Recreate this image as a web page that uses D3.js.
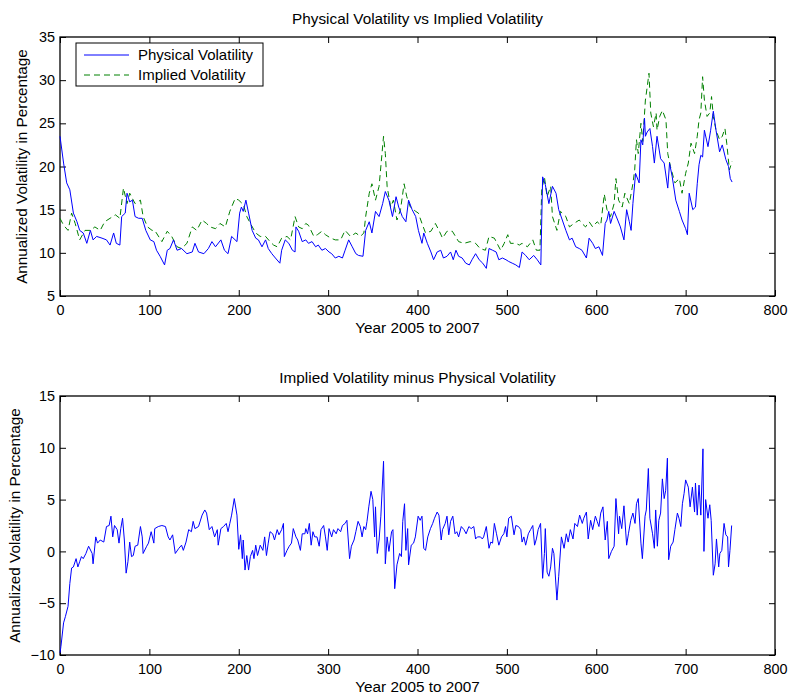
<!DOCTYPE html>
<html>
<head>
<meta charset="utf-8">
<script src="https://cdn.jsdelivr.net/npm/d3@7"></script>
<style>
  body { margin: 0; background: #fff; }
  svg { display: block; }
  text { font-family: "Liberation Sans", Arial, Helvetica, sans-serif; fill: #000; }
</style>
</head>
<body>
<svg id="chart" width="789" height="694"></svg>
<script>
// ---- data -------------------------------------------------------------
const seriesNames = ["Physical Volatility", "Implied Volatility"];
const xTicks = [0, 100, 200, 300, 400, 500, 600, 700, 800];
const volTicks = [5, 10, 15, 20, 25, 30, 35];
const spreadTicks = [-10, -5, 0, 5, 10, 15];

// physical (realised) volatility, trading day index -> percent
const physDay = [0,4,7.5,11,15,19,22,26,30,34,37,41,47,52,56,60,63,67,69,73,75,78,81,84,88,92,96,101,105,108,112,117,120,123,127,131,136,142,148,151,155,161,166,170,174,180,184,188,192,198,201,203,205,208,211,215,219,222,226,230,233,237,241,246,248,252,256,260,263,264,267,271,275,278,282,286,289,293,297,301,304,308,312,316,319,323,327,331,334,339,342,346,349,353,357,361,364,368,372,376,379,383,387,390,394,398,401,405,407,411,415,418,422,426,429,433,437,440,443,446,450,454,458,461,465,469,473,477,480,484,488,491,495,499,502,506,510,514,517,521,525,530,534,538,540,543,547,551,555,558,562,566,570,573,577,581,584,589,592,596,599,603,607,610,612,614,616,620,624,627,631,634,637,639,641,644,648,650,652,654,655,657,660,663,665,668,672,676,680,682,685,689,693,696,700,702,704,708,711,713,715,717,719,721,725,728,731,734,738,741,745,748,750,752];
const physVol = [23.5,20.4,18.1,17.3,14.6,13.6,12.6,12.3,11.1,12.6,11.5,11.9,11.7,11.5,10.9,12.3,11.1,10.9,14.2,14.6,16.9,15.9,16.1,14.2,14.0,14.0,12.6,11.5,11.3,10.3,9.6,8.6,10.3,10.5,11.5,10.3,10.5,9.9,10.1,11.1,10.1,9.9,10.5,11.3,10.7,11.5,10.3,9.9,11.9,11.3,14.6,15.3,14.8,16.1,14.6,12.6,11.7,11.5,10.7,11.5,10.5,9.9,9.4,8.8,10.3,11.5,11.1,10.3,10.1,13.0,12.5,11.3,11.5,11.1,11.3,10.7,10.9,10.3,10.5,10.1,9.9,9.4,9.6,9.4,10.3,11.5,10.7,9.9,9.7,9.6,12.6,13.6,12.3,14.8,14.2,15.7,17.1,16.1,14.2,16.5,15.3,14.2,13.6,16.1,15.0,14.2,12.6,11.1,12.3,11.1,10.1,9.2,10.1,10.3,9.4,9.6,10.1,9.2,10.3,9.6,9.4,8.8,8.6,9.2,9.9,9.2,8.8,8.2,10.5,10.3,10.1,9.2,9.4,9.2,9.0,8.8,8.6,8.3,10.1,9.7,9.2,9.7,9.2,8.6,18.8,17.9,15.7,17.7,16.9,15.0,13.8,12.6,11.5,11.7,10.7,10.5,10.3,9.4,11.7,11.1,10.5,10.7,9.7,13.4,13.8,14.8,13.4,14.8,13.8,13.0,11.5,15.0,13.6,12.6,15.7,19.2,18.1,23.1,22.5,25.6,23.5,24.0,24.4,22.3,20.4,23.5,20.9,20.4,17.5,20.4,18.8,16.1,14.8,13.8,12.8,12.1,16.9,15.0,15.3,18.0,20.2,21.3,21.1,24.2,22.3,24.2,26.4,24.2,21.7,22.5,20.8,20.0,18.6,18.2];

// implied volatility, trading day index -> percent
const implDay = [0,4,9,13,17,22,28,34,39,45,50,56,62,67,71,75,78,84,90,93,98,103,106,114,120,125,131,136,142,148,153,159,164,168,174,179,185,190,196,200,204,206,209,213,219,224,230,235,239,243,248,254,258,263,267,271,275,278,284,288,293,297,303,308,314,319,325,331,336,340,342,346,349,353,357,362,364,366,370,373,377,381,385,388,392,398,401,405,409,415,420,424,428,433,439,446,452,459,465,470,476,480,486,489,493,497,501,504,510,514,517,523,529,533,537,539,542,545,549,551,556,560,566,570,575,581,584,588,592,596,601,605,609,612,616,620,622,625,629,632,637,641,643,645,647,650,652,655,657,659,661,664,667,668,671,674,678,680,683,688,693,696,700,703,706,710,713,715,717,719,721,724,727,729,731,734,738,741,744,746,749,752];
const implVol = [14.0,13.2,12.6,14.6,13.4,11.5,12.6,12.6,13.0,12.6,13.6,14.0,14.4,14.0,17.5,15.7,16.9,15.7,16.1,14.2,13.0,12.6,12.6,11.3,12.5,11.9,10.7,10.5,11.1,13.0,12.6,13.8,13.4,13.0,12.8,13.4,13.0,14.8,16.3,16.1,15.7,15.3,14.2,13.4,12.3,11.9,11.9,11.3,10.9,10.7,11.7,11.9,11.5,14.2,13.0,12.8,13.4,13.2,11.9,12.1,12.5,12.1,11.7,11.5,11.5,12.6,11.9,12.3,11.9,12.3,14.2,16.9,18.0,16.1,17.7,23.5,21.5,17.7,15.3,16.1,13.8,15.0,18.0,16.5,15.3,14.8,14.6,13.4,12.3,12.5,13.4,12.6,11.7,12.5,12.5,11.3,11.1,11.3,11.1,10.5,10.3,11.9,11.7,11.1,10.3,11.1,12.1,11.1,11.1,10.9,11.1,10.7,11.5,10.3,10.3,17.3,18.8,16.5,17.7,14.2,12.6,14.8,14.2,13.0,13.4,13.8,13.4,13.0,13.6,13.0,13.6,13.2,16.8,15.0,14.2,15.7,18.6,16.1,15.3,16.9,15.7,18.0,19.6,23.1,21.5,25.0,22.9,27.7,29.2,30.8,26.2,24.6,26.2,24.2,25.8,26.5,25.4,21.5,20.0,18.1,18.6,16.9,19.2,20.4,22.7,21.5,23.5,25.4,26.2,30.4,27.7,25.8,26.2,28.1,25.8,24.2,23.1,23.5,24.4,22.7,19.6,20.6];

// implied minus physical, trading day index -> percentage points
const spreadDay = [0,1,4,6,9,11,13,15,18,20,22,24,26,29,32,36,37,40,42,45,49,52,55,57,59,61,64,66,68,70,72,74,76,78,80,82,84,87,90,92,93,97,99,102,105,106,110,114,118,121,123,126,129,133,136,138,141,144,147,149,151,155,159,162,164,167,170,173,176,177,180,183,186,188,190,192,195,198,200,202,204,205,207,209,211,213,215.5,217,219,221,224,227,229,231,233,235,238,240,243,245,248,250,251,254,256.5,259,261,264,266,269,271,274,275,277,279,281,283,285,287.5,290,292,295,297,299,301,304,306,309,311,314,316,319,321,324,326,329,331,333.5,336,338,340,342,343.5,345.5,348,350,352,353,355,357,359,362,364,366,368,371,372.5,374.5,377,380,382,383.5,385.5,387,389,390,393,395.6,397.6,400.7,403,405,407,409,411.5,414.5,417,419,422,424,426.5,428,431,433,435,437,439.5,442,444,446,449,452,454.4,457.5,460,463,465,467,470.5,472.5,474,477,480,482,484,486,488.4,491,494,496.6,498.5,500,502,505,508,510,513,515.6,517,519,521,524,526.5,529,531,533,535,537.7,540,542,543,545,547,549,551,552.6,556,558,561,564,566.5,568.6,571,574,576,579,581.4,584.4,586,589,591,593.7,596,599,601,603,605,607.5,610,612.4,614,617,620,622,625,626,628.5,631,634,636,638.6,641,643.4,645,647,650,651.6,654.6,656,658.3,660,663,665,666.5,668.4,670,672,674,676,677.7,679.6,681,683.3,686,688,690.8,692.6,694.6,696.4,698.3,700,703,705,707.6,710,711,713,715,717,719.4,720.5,722.4,725,727,728.6,731,733,734.5,737,738.3,740.5,743,745,747,748,749.6,751.5];
const spreadVol = [-9.8,-9.2,-6.9,-6.3,-5.3,-3.1,-1.6,-1.5,-0.7,-1.5,-1.0,-0.5,-0.7,-0.2,0.5,-0.2,-1.2,1.4,0.8,1.1,0.9,2.4,2.5,3.4,1.4,2.5,2.1,0.8,2.2,3.2,1.1,-2.1,-1.0,0.9,-0.5,-0.4,0.5,0.6,2.4,1.4,-0.2,0.5,0.8,1.9,0.8,2.2,2.4,2.5,2.4,1.4,1.1,1.6,-0.2,0.3,0.6,0.1,0.9,2.1,1.9,2.9,2.2,2.4,3.5,4.0,3.7,2.1,2.4,1.4,2.1,0.6,2.2,2.4,2.7,1.9,2.7,3.5,5.1,3.5,0.2,1.6,-0.7,1.1,-1.8,-0.4,-1.8,-0.5,0.1,-0.7,0.6,-0.4,0.6,0.1,1.4,-0.4,0.8,1.9,1.7,1.1,2.1,1.6,2.1,2.7,-0.5,0.1,0.5,0.8,2.2,1.4,1.1,0.1,1.7,1.7,2.2,1.7,2.7,0.6,1.9,1.4,1.4,0.5,2.1,2.5,1.4,0.1,2.2,1.4,2.1,1.7,2.2,1.9,2.5,2.7,3.0,-0.7,0.5,1.1,1.9,2.9,2.4,1.4,2.4,2.1,2.9,4.3,5.8,5.0,1.4,4.3,-0.2,1.1,3.4,8.7,-1.2,1.4,0.0,1.9,2.1,-3.6,-1.3,-0.2,-0.5,2.9,4.6,0.1,2.2,-1.3,0.6,0.8,1.4,3.4,3.0,3.4,0.3,0.1,1.4,2.2,2.7,3.2,3.8,3.5,1.1,2.1,2.7,3.4,1.6,2.9,3.4,1.7,1.9,1.4,2.4,2.1,1.7,2.4,2.2,2.4,1.2,1.4,1.4,1.2,1.4,2.4,0.3,0.9,0.8,2.7,1.7,0.6,1.4,1.7,2.4,1.4,3.2,3.4,1.6,2.5,2.4,2.1,0.9,1.4,0.6,1.7,2.1,2.5,0.6,1.2,2.1,2.7,-2.6,-0.2,2.2,-2.0,-2.4,-1.5,0.3,-0.2,-4.7,-2.4,1.4,0.3,1.7,0.9,2.1,1.2,2.7,2.4,3.5,2.7,3.2,3.8,1.2,3.0,2.1,3.4,2.9,2.4,3.7,4.3,1.1,2.9,-0.7,0.0,0.5,5.1,1.7,3.4,2.2,4.4,0.6,1.7,3.0,3.7,2.7,4.6,5.1,0.8,-0.7,3.4,4.0,8.0,3.2,1.7,0.3,4.0,0.5,3.0,3.7,7.0,5.1,5.9,9.0,-0.8,0.5,0.9,2.1,3.7,3.2,2.4,4.6,5.6,6.9,6.2,4.3,6.2,3.8,6.6,3.5,6.4,3.5,9.9,0.0,5.0,3.2,4.5,3.0,-2.3,-1.2,1.2,-1.5,-0.2,0.1,2.7,1.6,1.4,-1.5,0.1,2.5];

// ---- layout -------------------------------------------------------------
const svg = d3.select("#chart");
const x = d3.scaleLinear().domain([0, 800]).range([60, 775]);
const yVol = d3.scaleLinear().domain([5, 35]).range([296, 37]);
const ySpread = d3.scaleLinear().domain([-10, 15]).range([655, 396]);
const FONT_TICK = 14.4, FONT_LABEL = 15.3;

function drawFrame(y, yTicks, opts) {
  const [top, bottom] = [y.range()[1], y.range()[0]];
  const [left, right] = x.range();
  const g = svg.append("g");

  const styleAxis = sel => {
    sel.attr("font-size", null).attr("font-family", null);
    sel.select(".domain").remove();
    sel.selectAll(".tick line").attr("stroke", "#000").attr("stroke-width", 1);
    sel.selectAll("text").style("font-size", FONT_TICK + "px");
  };

  g.append("g").attr("transform", `translate(0,${bottom})`)
    .call(d3.axisBottom(x).tickValues(xTicks).tickSize(-6).tickPadding(9).tickFormat(d3.format("d")))
    .call(styleAxis);
  g.append("g").attr("transform", `translate(0,${top})`)
    .call(d3.axisTop(x).tickValues(xTicks).tickSize(-6).tickFormat(""))
    .call(styleAxis);
  g.append("g").attr("transform", `translate(${left},0)`)
    .call(d3.axisLeft(y).tickValues(yTicks).tickSize(-6).tickPadding(5).tickFormat(d3.format("d")))
    .call(styleAxis);
  g.append("g").attr("transform", `translate(${right},0)`)
    .call(d3.axisRight(y).tickValues(yTicks).tickSize(-6).tickFormat(""))
    .call(styleAxis);

  g.append("rect")
    .attr("x", left).attr("y", top)
    .attr("width", right - left).attr("height", bottom - top)
    .attr("fill", "none").attr("stroke", "#000").attr("stroke-width", 1.3);

  const cx = (left + right) / 2;
  g.append("text").attr("x", cx).attr("y", top - 13)
    .attr("text-anchor", "middle").style("font-size", FONT_LABEL + "px").text(opts.title);
  g.append("text").attr("x", cx).attr("y", bottom + 37)
    .attr("text-anchor", "middle").style("font-size", FONT_LABEL + "px").text(opts.xLabel);
  g.append("text")
    .attr("transform", `translate(${opts.yLabelX},${(top + bottom) / 2}) rotate(-90)`)
    .attr("text-anchor", "middle").style("font-size", FONT_LABEL + "px").text(opts.yLabel);
}

const lineOf = y => d3.line().x(d => x(d[0])).y(d => y(d[1]));

// ---- top panel: both volatilities ---------------------------------------
drawFrame(yVol, volTicks, {
  title: "Physical Volatility vs Implied Volatility",
  xLabel: "Year 2005 to 2007",
  yLabel: "Annualized Volatility in Percentage",
  yLabelX: 27
});

const volPanel = svg.append("g");
volPanel.append("path")
  .datum(d3.zip(implDay, implVol))
  .attr("d", lineOf(yVol))
  .attr("fill", "none").attr("stroke", "#008000").attr("stroke-width", 1)
  .attr("stroke-dasharray", "6,4");
volPanel.append("path")
  .datum(d3.zip(physDay, physVol))
  .attr("d", lineOf(yVol))
  .attr("fill", "none").attr("stroke", "#0000ff").attr("stroke-width", 1);

// legend
const legend = svg.append("g");
legend.append("rect")
  .attr("x", 76).attr("y", 43).attr("width", 187).attr("height", 43)
  .attr("fill", "#fff").attr("stroke", "#000").attr("stroke-width", 1);
const legendStyles = [
  { color: "#0000ff", dash: null },
  { color: "#008000", dash: "6,4" }
];
seriesNames.forEach((name, i) => {
  const cy = 55 + i * 20;
  legend.append("line")
    .attr("x1", 84).attr("x2", 129).attr("y1", cy).attr("y2", cy)
    .attr("stroke", legendStyles[i].color).attr("stroke-width", 1)
    .attr("stroke-dasharray", legendStyles[i].dash);
  legend.append("text")
    .attr("x", 138).attr("y", cy + 5)
    .style("font-size", "15px").text(name);
});

// ---- bottom panel: spread -------------------------------------------------
drawFrame(ySpread, spreadTicks, {
  title: "Implied Volatility minus Physical Volatility",
  xLabel: "Year 2005 to 2007",
  yLabel: "Annualized Volatility in Percentage",
  yLabelX: 20
});

svg.append("path")
  .datum(d3.zip(spreadDay, spreadVol))
  .attr("d", lineOf(ySpread))
  .attr("fill", "none").attr("stroke", "#0000ff").attr("stroke-width", 1);
</script>
</body>
</html>
